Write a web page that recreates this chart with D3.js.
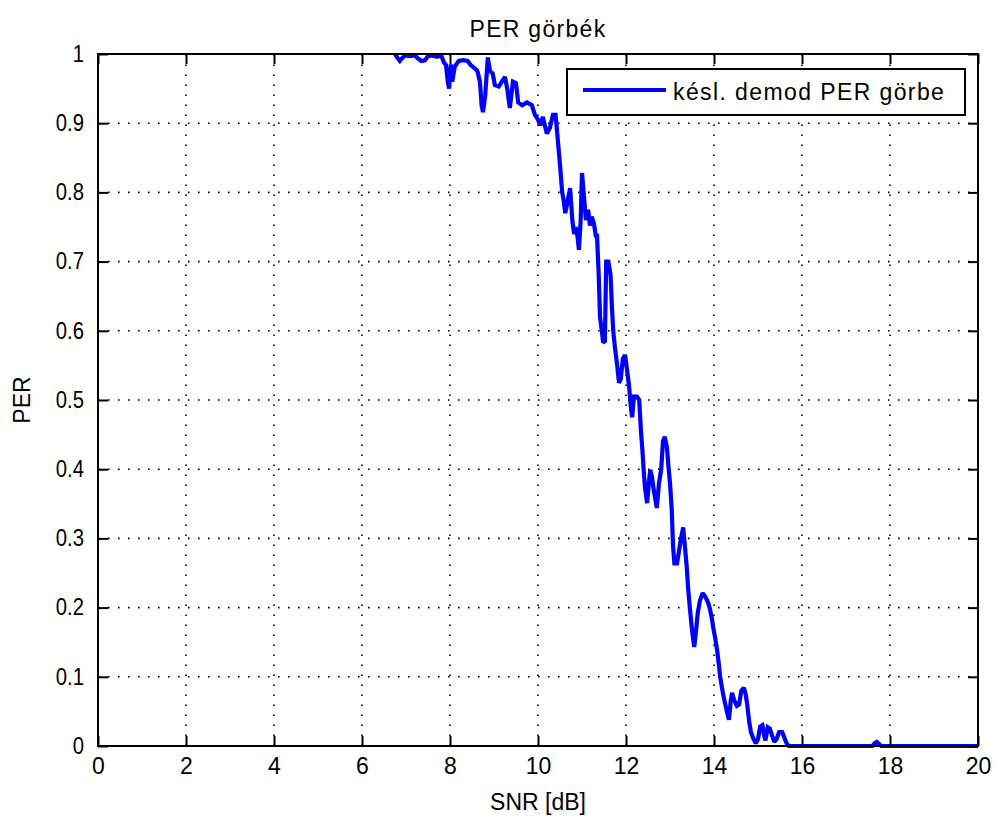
<!DOCTYPE html>
<html>
<head>
<meta charset="utf-8">
<script src="https://cdn.jsdelivr.net/npm/d3@7"></script>
<style>
  html, body { margin: 0; padding: 0; background: #ffffff; }
  svg text { font-family: "Liberation Sans", Arial, Helvetica, sans-serif; fill: #000; }
</style>
</head>
<body>
<svg id="chart" width="996" height="823"></svg>
<script>
// Measured packet error rate of the delayed demodulator versus SNR
const snrDb = [
  6.75, 6.80, 6.86, 6.91, 6.98, 7.10, 7.20, 7.28, 7.35, 7.43, 7.50, 7.60, 7.70, 7.80, 7.86, 7.91,
  7.95, 7.98, 8.02, 8.05, 8.11, 8.20, 8.30, 8.40, 8.47, 8.55, 8.62, 8.68, 8.72, 8.75, 8.80, 8.86,
  8.91, 8.97, 9.02, 9.11, 9.18, 9.25, 9.30, 9.36, 9.43, 9.50, 9.55, 9.64, 9.75, 9.86, 9.93, 10.00,
  10.05, 10.11, 10.20, 10.27, 10.34, 10.40, 10.45, 10.50, 10.55, 10.58, 10.62, 10.68, 10.73, 10.78,
  10.82, 10.86, 10.90, 10.93, 10.97, 11.00, 11.05, 11.09, 11.14, 11.18, 11.22, 11.27, 11.32, 11.34,
  11.38, 11.41, 11.45, 11.48, 11.52, 11.55, 11.60, 11.65, 11.68, 11.71, 11.75, 11.80, 11.84, 11.88,
  11.93, 11.98, 12.03, 12.07, 12.11, 12.14, 12.18, 12.25, 12.30, 12.34, 12.37, 12.40, 12.43, 12.48,
  12.52, 12.55, 12.59, 12.63, 12.70, 12.75, 12.80, 12.84, 12.88, 12.93, 12.97, 13.00, 13.04, 13.07,
  13.10, 13.16, 13.20, 13.25, 13.30, 13.34, 13.38, 13.41, 13.45, 13.50, 13.55, 13.59, 13.63, 13.68,
  13.74, 13.80, 13.86, 13.90, 13.95, 13.98, 14.03, 14.07, 14.11, 14.14, 14.20, 14.25, 14.30, 14.34,
  14.38, 14.41, 14.46, 14.52, 14.57, 14.62, 14.68, 14.72, 14.75, 14.80, 14.84, 14.90, 14.95, 15.00,
  15.05, 15.10, 15.14, 15.17, 15.22, 15.27, 15.32, 15.37, 15.42, 15.48, 15.55, 15.60, 15.65, 15.70,
  16.50, 17.60, 17.65, 17.70, 17.75, 17.80, 18.80, 20.00
];
const perValues = [
  1.000, 0.995, 0.990, 0.994, 0.998, 0.997, 0.998, 0.993, 0.990, 0.991, 0.997, 0.998, 0.996, 0.998, 0.988, 0.984,
  0.960, 0.950, 0.985, 0.960, 0.982, 0.990, 0.991, 0.990, 0.984, 0.980, 0.976, 0.960, 0.925, 0.916, 0.940, 0.995,
  0.975, 0.972, 0.955, 0.953, 0.960, 0.967, 0.950, 0.922, 0.960, 0.958, 0.930, 0.926, 0.930, 0.926, 0.912, 0.905,
  0.897, 0.909, 0.885, 0.893, 0.912, 0.912, 0.876, 0.840, 0.800, 0.790, 0.770, 0.790, 0.806, 0.760,
  0.740, 0.750, 0.735, 0.717, 0.760, 0.828, 0.790, 0.760, 0.775, 0.752, 0.765, 0.755, 0.735, 0.740,
  0.680, 0.620, 0.600, 0.583, 0.585, 0.700, 0.700, 0.680, 0.634, 0.600, 0.575, 0.550, 0.525, 0.530,
  0.560, 0.565, 0.540, 0.520, 0.490, 0.475, 0.505, 0.505, 0.500, 0.455, 0.430, 0.400, 0.375, 0.351,
  0.380, 0.399, 0.389, 0.370, 0.344, 0.380, 0.400, 0.440, 0.447, 0.432, 0.400, 0.380, 0.341, 0.288,
  0.264, 0.264, 0.280, 0.300, 0.316, 0.288, 0.259, 0.230, 0.200, 0.168, 0.143, 0.165, 0.192, 0.210,
  0.221, 0.216, 0.208, 0.200, 0.185, 0.172, 0.155, 0.139, 0.118, 0.100, 0.077, 0.062, 0.048, 0.038,
  0.065, 0.077, 0.066, 0.058, 0.060, 0.080, 0.084, 0.075, 0.062, 0.035, 0.020, 0.010, 0.004, 0.010,
  0.028, 0.030, 0.015, 0.008, 0.027, 0.025, 0.015, 0.006, 0.010, 0.020, 0.020, 0.012, 0.004, 0.000,
  0.000, 0.000, 0.004, 0.006, 0.003, 0.000, 0.000, 0.000
];
const xTicks = [0, 2, 4, 6, 8, 10, 12, 14, 16, 18, 20];
const yTicks = [0, 0.1, 0.2, 0.3, 0.4, 0.5, 0.6, 0.7, 0.8, 0.9, 1];
const yTickLabels = ["0", "0.1", "0.2", "0.3", "0.4", "0.5", "0.6", "0.7", "0.8", "0.9", "1"];
const titleText = "PER görbék";
const xLabel = "SNR [dB]";
const yLabel = "PER";
const seriesName = "késl. demod PER görbe";

const margin = { left: 98, top: 54, right: 18, bottom: 77 };
const W = 996, H = 823;
const iw = W - margin.left - margin.right;
const ih = H - margin.top - margin.bottom;
const fs = 23;
const tickLen = 10;

const svg = d3.select("#chart");
svg.append("rect").attr("width", W).attr("height", H).attr("fill", "#fff");
const g = svg.append("g").attr("transform", `translate(${margin.left},${margin.top})`);

const x = d3.scaleLinear().domain([0, 20]).range([0, iw]);
const y = d3.scaleLinear().domain([0, 1]).range([ih, 0]);

// dotted grid
const grid = g.append("g").attr("stroke", "#000").attr("stroke-width", 1.6)
  .attr("stroke-dasharray", "1.6,8.4").attr("stroke-linecap", "butt");
grid.selectAll("line.gx").data(xTicks.slice(1, -1)).join("line")
  .attr("x1", d => x(d)).attr("x2", d => x(d)).attr("y1", ih).attr("y2", 0);
grid.selectAll("line.gy").data(yTicks.slice(1, -1)).join("line")
  .attr("y1", d => y(d)).attr("y2", d => y(d)).attr("x1", 0).attr("x2", iw);

// data line
const line = d3.line().x((d, i) => x(snrDb[i])).y((d, i) => y(perValues[i]));
g.append("path").datum(perValues)
  .attr("d", line)
  .attr("fill", "none").attr("stroke", "#0000ff").attr("stroke-width", 4.2)
  .attr("stroke-linejoin", "miter").attr("stroke-miterlimit", 2);

// axes with inward ticks
function styleAxis(sel) {
  sel.select(".domain").remove();
  sel.selectAll(".tick line").attr("stroke", "#000").attr("stroke-width", 2);
  sel.selectAll("text").attr("font-size", fs).attr("font-family", "Liberation Sans, Arial, sans-serif");
}
const xAxis = d3.axisBottom(x).tickValues(xTicks).tickSizeInner(-tickLen).tickSizeOuter(0).tickPadding(12).tickFormat(d3.format("d"));
g.append("g").attr("transform", `translate(0,${ih})`).call(xAxis).call(styleAxis);
const xTop = d3.axisTop(x).tickValues(xTicks).tickSizeInner(-tickLen).tickSizeOuter(0).tickFormat("");
g.append("g").call(xTop).call(styleAxis);
const yAxis = d3.axisLeft(y).tickValues(yTicks).tickSizeInner(-tickLen).tickSizeOuter(0).tickPadding(14)
  .tickFormat((d, i) => yTickLabels[i]);
g.append("g").call(yAxis).call(styleAxis)
  .selectAll("text").attr("textLength", function () { return this.getComputedTextLength() * 0.88; })
  .attr("lengthAdjust", "spacingAndGlyphs");
const yRight = d3.axisRight(y).tickValues(yTicks).tickSizeInner(-tickLen).tickSizeOuter(0).tickFormat("");
g.append("g").attr("transform", `translate(${iw},0)`).call(yRight).call(styleAxis);

// frame
g.append("rect").attr("x", 0).attr("y", 0).attr("width", iw).attr("height", ih)
  .attr("fill", "none").attr("stroke", "#000").attr("stroke-width", 2);

// title and axis labels
svg.append("text").attr("x", margin.left + iw / 2).attr("y", 37)
  .attr("text-anchor", "middle").attr("font-size", fs).attr("letter-spacing", 1.3).text(titleText);
svg.append("text").attr("x", margin.left + iw / 2).attr("y", 810)
  .attr("text-anchor", "middle").attr("font-size", fs).text(xLabel);
svg.append("text").attr("transform", `translate(30,${margin.top + ih / 2}) rotate(-90)`)
  .attr("text-anchor", "middle").attr("font-size", fs).text(yLabel);

// legend
const lg = svg.append("g").attr("transform", "translate(567,69)");
lg.append("rect").attr("width", 398).attr("height", 46)
  .attr("fill", "#fff").attr("stroke", "#000").attr("stroke-width", 2);
lg.append("line").attr("x1", 16).attr("x2", 99).attr("y1", 21).attr("y2", 21)
  .attr("stroke", "#0000ff").attr("stroke-width", 4.2);
lg.append("text").attr("x", 106).attr("y", 31).attr("font-size", fs).attr("letter-spacing", 1.4).text(seriesName);
</script>
</body>
</html>
